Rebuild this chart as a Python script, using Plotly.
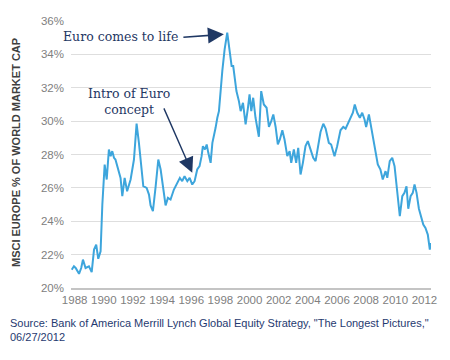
import plotly.graph_objects as go

# Decimal years and MSCI Europe share (%) of world market cap
years = [1987.8, 1987.95, 1988.07, 1988.3, 1988.45, 1988.57, 1988.75, 1988.98, 1989.17, 1989.33,
         1989.48, 1989.62, 1989.78, 1989.9, 1990.06, 1990.2, 1990.35, 1990.47, 1990.58, 1990.7,
         1990.8, 1991.0, 1991.15, 1991.27, 1991.35, 1991.43, 1991.6, 1991.75, 1991.84, 1992.07,
         1992.25, 1992.41, 1992.55, 1992.71, 1992.94, 1993.1, 1993.21, 1993.37, 1993.56, 1993.74,
         1993.9, 1994.13, 1994.24, 1994.4, 1994.58, 1994.81, 1995.04, 1995.22, 1995.38, 1995.54,
         1995.73, 1995.89, 1996.07, 1996.23, 1996.41, 1996.57, 1996.71, 1996.8, 1996.94, 1997.06,
         1997.17, 1997.33, 1997.45, 1997.56, 1997.67, 1997.79, 1997.9, 1998.13, 1998.29, 1998.47,
         1998.63, 1998.77, 1998.88, 1998.93, 1999.1, 1999.27, 1999.39, 1999.55, 1999.73, 1999.89,
         2000.0, 2000.12, 2000.25, 2000.41, 2000.53, 2000.64, 2000.8, 2000.98, 2001.17, 2001.33,
         2001.49, 2001.63, 2001.79, 2001.94, 2002.08, 2002.25, 2002.4, 2002.59, 2002.75, 2002.86,
         2003.04, 2003.2, 2003.34, 2003.5, 2003.66, 2003.84, 2004.0, 2004.19, 2004.37, 2004.53,
         2004.76, 2004.87, 2005.06, 2005.22, 2005.44, 2005.6, 2005.83, 2006.01, 2006.24, 2006.43,
         2006.59, 2006.81, 2006.93, 2007.09, 2007.22, 2007.39, 2007.57, 2007.73, 2007.89, 2008.0,
         2008.19, 2008.35, 2008.49, 2008.64, 2008.8, 2008.98, 2009.14, 2009.33, 2009.45, 2009.62,
         2009.79, 2009.95, 2010.13, 2010.31, 2010.48, 2010.63, 2010.77, 2010.89, 2011.05, 2011.2,
         2011.32, 2011.46, 2011.62, 2011.73, 2011.92, 2012.07, 2012.23, 2012.37, 2012.42]
share = [21.1, 21.3, 21.2, 20.85, 21.2, 21.7, 21.2, 21.3, 20.95, 22.3,
         22.6, 21.75, 22.2, 25.0, 27.4, 26.5, 28.3, 27.9, 28.2, 27.8,
         27.7, 27.1, 26.6, 25.5, 26.1, 26.6, 25.8, 26.2, 26.5, 27.7,
         29.85, 28.7, 27.3, 26.1, 26.0, 25.6, 24.95, 24.6, 26.1, 27.7,
         27.1, 25.5, 24.95, 25.4, 25.3, 25.9, 26.3, 26.6, 26.4, 26.7,
         26.4, 26.6, 26.2, 26.4, 27.1, 27.3, 27.9, 28.5, 28.3, 28.6,
         28.1, 27.5, 28.7, 29.1, 29.6, 30.2, 30.6, 33.0, 34.3, 35.3,
         34.1, 33.3, 33.3, 32.9, 31.8, 31.2, 30.6, 31.1, 29.8, 30.8,
         31.6, 30.6, 31.4, 30.2, 29.65, 29.06, 31.8, 31.0, 30.8, 29.65,
         30.0, 30.4, 29.65, 28.6, 28.9, 29.45, 28.9, 27.9, 28.2, 27.5,
         28.3, 27.5, 28.4, 26.8, 27.5, 28.5, 28.8, 28.3, 27.8, 27.6,
         28.7, 29.35, 29.84, 29.55, 28.7, 28.6, 27.9, 28.5, 29.45, 29.65,
         29.55, 29.95, 30.2, 30.5, 31.0, 30.5, 30.2, 30.5, 30.1, 29.65,
         30.4, 29.65, 28.96, 28.3, 27.4, 27.1, 26.5, 27.0, 26.6, 27.6,
         27.8, 27.3, 25.9, 24.3, 25.5, 25.7, 26.1, 24.75, 25.5, 25.7,
         26.2, 25.7, 24.75, 24.4, 23.8, 23.6, 23.2, 22.3, 22.7]

x_ticks = list(range(1988, 2013, 2))
y_ticks = list(range(20, 37, 2))
y_tick_labels = [f"{v}%" for v in y_ticks]

ann_texts = ["Euro comes to life", "Intro of Euro<br>concept"]
ann_points = [(1998.24, 35.2), (1996.07, 26.9)]

navy = "#1F3864"

fig = go.Figure()
fig.add_trace(go.Scatter(x=years, y=share, mode="lines",
                         line=dict(color="#3DA5DC", width=2), hoverinfo="skip"))

# page body adds an 8px offset; plot area occupies x 71-431, y 15-288 in the window
fig.update_layout(
    width=442, height=352,
    margin=dict(l=63, r=19, t=7, b=72),
    paper_bgcolor="white", plot_bgcolor="white",
    showlegend=False,
    xaxis=dict(range=[1987.75, 2012.45], tickvals=x_ticks, tickformat="d",
               showgrid=False, zeroline=False, showline=True,
               linecolor="#C4C4C4", linewidth=1.5, ticks="",
               tickfont=dict(family="Liberation Sans, Arial", size=11.5, color="#808080")),
    yaxis=dict(range=[20, 36], tickvals=y_ticks, ticktext=y_tick_labels,
               showgrid=True, gridcolor="#DEDEDE", gridwidth=1, zeroline=False,
               ticks="", ticklabelstandoff=6,
               tickfont=dict(family="Liberation Sans, Arial", size=11.5, color="#808080")),
)

# Arrows
fig.add_annotation(x=ann_points[0][0], y=ann_points[0][1], xref="x", yref="y",
                   text="", showarrow=True, ax=-42, ay=3,
                   arrowhead=2, arrowsize=2, arrowwidth=1.6, arrowcolor=navy)
fig.add_annotation(x=ann_points[1][0], y=ann_points[1][1], xref="x", yref="y",
                   text="", showarrow=True, ax=-29, ay=-66,
                   arrowhead=2, arrowsize=2.2, arrowwidth=1.4, arrowcolor=navy)
# Annotation texts
fig.add_annotation(x=(120 - 71) / 360, y=(288 - 31) / 273, xref="paper", yref="paper",
                   text=ann_texts[0], showarrow=False, xanchor="center", yanchor="middle",
                   font=dict(family="DejaVu Serif, serif", size=12.5, color=navy))
fig.add_annotation(x=(129 - 71) / 360, y=(288 - 97) / 273, xref="paper", yref="paper",
                   text=ann_texts[1], showarrow=False, xanchor="center", yanchor="middle",
                   align="center",
                   font=dict(family="DejaVu Serif, serif", size=12.5, color=navy))

# Y-axis title
fig.add_annotation(x=(16 - 71) / 360, y=(288 - 150) / 273, xref="paper", yref="paper",
                   text="<b>MSCI EUROPE % OF WORLD MARKET CAP</b>", showarrow=False,
                   textangle=-90, xanchor="center", yanchor="middle",
                   font=dict(family="Liberation Sans, Arial", size=11, color="#404040"))

# Source
fig.add_annotation(x=(8 - 71) / 360, y=(288 - 316) / 273, xref="paper", yref="paper",
                   text="Source: Bank of America Merrill Lynch Global Equity Strategy, \"The Longest Pictures,\"<br>06/27/2012",
                   showarrow=False, xanchor="left", yanchor="top", align="left",
                   font=dict(family="Liberation Sans, Arial", size=11, color="#1F3A70"))

fig.write_html("out.html")
